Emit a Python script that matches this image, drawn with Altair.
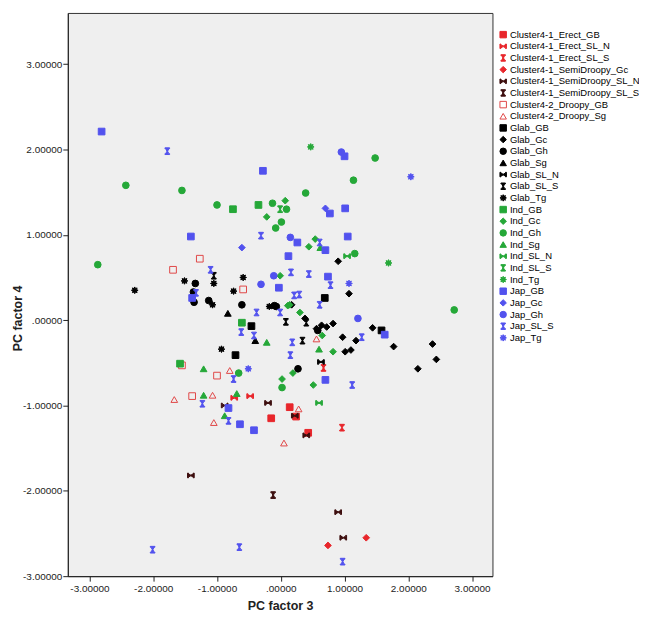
import math
import altair as alt
import pandas as pd

# ---------------- data ----------------
groups = [
    "Cluster4-1_Erect_GB", "Cluster4-1_Erect_SL_N", "Cluster4-1_Erect_SL_S",
    "Cluster4-1_SemiDroopy_Gc", "Cluster4-1_SemiDroopy_SL_N", "Cluster4-1_SemiDroopy_SL_S",
    "Cluster4-2_Droopy_GB", "Cluster4-2_Droopy_Sg",
    "Glab_GB", "Glab_Gc", "Glab_Gh", "Glab_Sg", "Glab_SL_N", "Glab_SL_S", "Glab_Tg",
    "Ind_GB", "Ind_Gc", "Ind_Gh", "Ind_Sg", "Ind_SL_N", "Ind_SL_S", "Ind_Tg",
    "Jap_GB", "Jap_Gc", "Jap_Gh", "Jap_SL_S", "Jap_Tg",
]

pc3 = [
    [-0.15, 0.14, 0.24, 0.43],
    [-0.73, -0.48],
    [0.67, 0.96],
    [0.74, 1.34],
    [-1.41, -0.88, -0.20, 0.22, 0.40, 0.90, 0.98],
    [-0.12],
    [-1.27, -1.69, -0.59, -1.55, -1.39, -1.00],
    [-0.80, -1.67, -1.07, -1.05, 0.28, 0.05, 0.56],
    [0.69, -0.46, -0.71, 1.58],
    [0.90, 1.07, 0.17, 0.38, 0.56, 0.64, 0.72, 0.82, 0.97, 1.01, 1.44, 1.18, 1.10, 1.77, 2.38, 2.44, 2.15],
    [-1.34, -1.37, -1.36, -1.13, -0.61, -0.10, -0.07, 0.27, 0.58],
    [-0.83, -0.40],
    [0.63],
    [-1.05, 0.08, 0.34, 0.40],
    [-2.29, -1.51, -1.05, -0.59, -0.74, -1.07, -0.93, -0.18],
    [-0.75, -0.35, -1.58, -0.61],
    [0.07, -0.22, 0.54, 0.44, -0.01, 0.11, 0.14, 0.30, 0.65, 0.82, 0.19, 0.02, 0.51],
    [-2.87, -2.43, -1.55, -1.00, -0.13, 0.09, 0.01, -0.08, 0.39, 1.14, 1.48, 1.16, 2.72, -0.66, 0.02],
    [0.62, -1.21, -0.22, 0.60, -1.21, -0.69, -0.88],
    [1.04, 0.60],
    [-0.01],
    [0.47, 1.69],
    [-2.81, -0.28, 1.00, 0.77, 1.01, 0.26, 0.70, 0.12, 0.74, -0.03, 1.05, -1.41, -1.39, 1.63, 0.70, -0.82, -0.64, -0.42],
    [0.70, -0.61],
    [0.95, 0.15, -0.31, -0.11, 1.21],
    [-1.78, -0.31, 0.61, 0.16, 0.44, 0.78, 0.21, 0.29, -0.38, -0.01, -0.62, -0.42, 0.18, 0.15, -1.10, -1.33,
     1.27, 1.12, -0.74, -1.23, -0.82, -2.01, -0.65, 0.97, 0.61],
    [2.04, 1.07, -0.51],
]

pc4 = [
    [-1.15, -1.02, -1.13, -1.32],
    [-0.91, -0.89],
    [-0.56, -1.26],
    [-2.64, -2.55],
    [-1.82, -1.00, -0.97, -1.12, -1.35, -2.25, -2.55],
    [-2.05],
    [0.72, 0.59, 0.36, -0.53, -0.89, -0.65],
    [-0.59, -0.93, -0.88, -1.20, -1.04, -1.44, -0.22],
    [0.26, -0.07, -0.41, -0.12],
    [0.69, 0.31, 0.18, 0.02, -0.10, -0.06, -0.08, -0.04, -0.20, -0.37, -0.09, -0.24, -0.35, -0.31, -0.28, -0.46, -0.57],
    [0.43, 0.33, 0.21, 0.23, 0.18, 0.17, 0.16, -0.57, -0.12],
    [0.08, -0.24],
    [-0.49],
    [0.52, -0.02, -0.24, -0.03],
    [0.35, 0.46, 0.43, 0.50, 0.34, 0.18, -0.34, 0.16],
    [1.30, 1.35, -0.51, -0.03],
    [1.40, 1.21, 0.95, 0.86, 0.52, 0.17, 0.18, 0.09, -0.18, -0.37, -0.62, -0.69, -0.76],
    [0.65, 1.58, 1.52, 1.35, 1.37, 1.30, 1.15, 1.08, 1.49, 1.64, 1.90, 0.78, 0.12, -0.62, -0.79],
    [0.85, -0.57, -0.26, -0.34, -0.88, -0.86, -1.12],
    [0.75, -0.97],
    [1.30],
    [2.03, 0.67],
    [2.21, 1.75, 1.92, 1.25, 1.31, 0.91, 0.82, 0.75, 0.51, 0.38, 0.98, 0.98, 0.26, -0.17, -0.70, -1.03, -1.22, -1.29],
    [1.31, 0.85],
    [1.97, 0.97, 0.42, 0.52, 0.02],
    [1.98, 0.99, 0.91, 0.56, 0.54, 0.41, 0.29, 0.30, 0.09, 0.09, -0.14, -0.18, -0.26, -0.41, 0.59, 0.32,
     -0.20, -0.76, -0.69, -0.98, -1.18, -2.69, -2.66, -2.83, 0.18],
    [1.68, 0.43, -0.57],
]

x_ticks = [-3, -2, -1, 0, 1, 2, 3]
y_ticks = [-3, -2, -1, 0, 1, 2, 3]

# ---------------- styles ----------------
RED = "#e8262b"
DARK = "#3c0d0d"
OPEN_RED = "#e04848"
BLACK = "#000000"
GREEN = "#25a838"
BLUE = "#5252ee"

SL_N = ("M-1,-0.7H-0.72V-0.48L0,-0.1L0.72,-0.48V-0.7H1V0.7H0.72V0.48L0,0.1L-0.72,0.48V0.7H-1Z")
SL_S = ("M-0.7,-1V-0.75H-0.48L-0.1,0L-0.48,0.75H-0.7V1H0.7V0.75H0.48L0.1,0L0.48,-0.75H0.7V-1Z")
pts = []
for k in range(16):
    r = 1.0 if k % 2 == 0 else 0.55
    a = math.pi * k / 8 - math.pi / 2
    pts.append(f"{r*math.cos(a):.3f},{r*math.sin(a):.3f}")
STAR = "M" + "L".join(pts) + "Z"

shape_of = {"GB": "square", "Gc": "diamond", "Gh": "circle", "Sg": "triangle-up",
            "SL_N": SL_N, "SL_S": SL_S, "Tg": STAR}

shapes, fills, strokes = [], [], []
for g in groups:
    suffix = "SL_N" if g.endswith("SL_N") else ("SL_S" if g.endswith("SL_S") else g.split("_")[-1])
    shapes.append(shape_of[suffix])
    if g.startswith("Cluster4-2"):
        fills.append("transparent"); strokes.append(OPEN_RED)
    elif g.startswith("Cluster4-1_SemiDroopy_SL"):
        fills.append(DARK); strokes.append(DARK)
    elif g.startswith("Cluster4-1"):
        fills.append(RED); strokes.append(RED)
    elif g.startswith("Glab"):
        fills.append(BLACK); strokes.append(BLACK)
    elif g.startswith("Ind"):
        fills.append(GREEN); strokes.append(GREEN)
    else:
        fills.append(BLUE); strokes.append(BLUE)

rows = []
for g, xs, ys in zip(groups, pc3, pc4):
    for xv, yv in zip(xs, ys):
        rows.append({"group": g, "pc3": xv, "pc4": yv})
df = pd.DataFrame(rows)

FONT = "Liberation Sans"
label_expr = "(datum.value < 0 ? '-' : '') + (datum.value == 0 ? '.00000' : format(abs(datum.value), '.5f'))"

leg = alt.Legend(title=None, orient="none", legendX=432, legendY=17, padding=0,
                 labelFont=FONT, labelFontSize=9.5, labelColor="#000", labelOffset=2,
                 symbolSize=42, symbolStrokeWidth=1, rowPadding=0.7, symbolLimit=40,
                 labelLimit=200)

chart = alt.Chart(df).mark_point(filled=True, opacity=1, size=45, strokeWidth=1).encode(
    x=alt.X("pc3:Q", title="PC factor 3",
            scale=alt.Scale(domain=[-3.34, 3.32], nice=False, zero=False),
            axis=alt.Axis(values=x_ticks, labelExpr=label_expr, grid=False,
                          labelFont=FONT, labelFontSize=10, labelColor="#222",
                          tickSize=5, tickColor="#222", domainColor="#222",
                          labelPadding=2, titleFont=FONT, titleFontSize=12.5,
                          titleFontWeight="bold", titleColor="#222",
                          titleY=33, titleBaseline="alphabetic")),
    y=alt.Y("pc4:Q", title="PC factor 4",
            scale=alt.Scale(domain=[-3.0, 3.6], nice=False, zero=False),
            axis=alt.Axis(values=y_ticks, labelExpr=label_expr, grid=False,
                          labelFont=FONT, labelFontSize=10, labelColor="#222",
                          tickSize=5, tickColor="#222", domainColor="#222",
                          labelPadding=1, titleFont=FONT, titleFontSize=12.5,
                          titleFontWeight="bold", titleColor="#222",
                          titleX=-50, titleY=306, titleBaseline="middle")),
    shape=alt.Shape("group:N", scale=alt.Scale(domain=groups, range=shapes), legend=leg),
    fill=alt.Fill("group:N", scale=alt.Scale(domain=groups, range=fills), legend=leg),
    stroke=alt.Stroke("group:N", scale=alt.Scale(domain=groups, range=strokes), legend=leg),
).properties(
    width=426, height=565,
    autosize=alt.AutoSizeParams(type="none"),
    padding={"left": 60, "top": 4, "right": 147, "bottom": 36},
).configure_view(fill="#efefef", stroke="#333", strokeWidth=1)

chart.save("out.html", embed_options={"renderer": "svg", "actions": False})
